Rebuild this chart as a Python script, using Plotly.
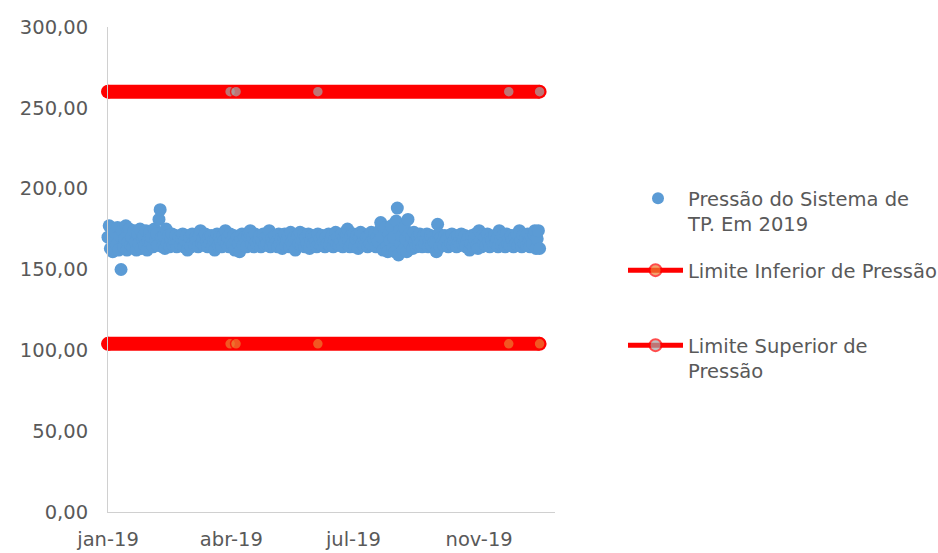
import pandas as pd
import plotly.graph_objects as go

# Pressão diária do sistema de TP em 2019
pressao = [
    # jan
    170, 177, 163, 175, 161, 168, 173, 165, 176, 162, 171, 150, 174, 164, 169, 177, 162, 167, 175, 165,
    170, 164, 174, 167, 162, 172, 166, 175, 163, 169, 171, 165, 174, 162, 168, 173, 166, 170, 164, 175,
    # fev
    168, 172, 165, 181, 187, 170, 164, 171, 163, 175,
    166, 171, 164, 169, 172, 165, 168, 171, 164, 167, 170, 165, 169, 172, 164, 168, 171, 162, 166, 170,
    164, 172, 167, 165, 170, 168, 164, 171, 174, 166,
    # mar - mai
    169, 165, 172, 167, 164, 170, 166, 171, 164, 168, 162, 169, 172, 165, 170, 167, 164, 171, 168, 174,
    166, 170, 164, 172, 167, 165, 171, 162, 168, 170, 166, 161, 169, 172, 165, 170, 167, 164, 171, 173,
    174, 166, 170, 164, 172, 167, 165, 169, 171, 164, 168, 172, 165, 170, 166, 171, 174, 164, 169, 167,
    # mai - jul
    165, 171, 167, 164, 172, 166, 169, 163, 170, 172, 165, 168, 171, 164, 173, 167, 165, 170, 162, 169,
    171, 166, 173, 165, 168, 172, 164, 170, 166, 172, 163, 168, 171, 165, 170, 167, 164, 172, 166, 169,
    165, 171, 167, 164, 170, 166, 172, 165, 169, 171, 164, 168, 173, 166, 170, 165, 168, 172, 164, 170,
    # jul - ago
    167, 171, 175, 168, 164, 171, 166, 172, 164, 169, 171, 163, 170, 173, 166, 172, 165, 168, 170, 164,
    171, 166, 173, 165, 169, 172, 164, 170, 167, 174,
    # ago - set
    179, 170, 162, 175, 176, 164, 161, 172, 168, 177, 163, 170, 161, 180, 188, 159, 174, 166, 171, 162,
    176, 169, 161, 181, 172, 165, 170, 163, 173, 167, 164,
    # set - out
    170, 165, 172, 167, 164, 171, 166, 169, 172, 164, 168, 171, 165, 170, 167,
    166, 161, 178, 172, 164, 170, 167, 165, 171, 168,
    # out - dez
    169, 164, 171, 166, 172, 165, 168, 170, 164, 171, 167, 165, 172, 166, 169, 171, 164, 168, 170, 162,
    166, 171, 164, 169, 172, 165, 163, 174, 168, 164, 171, 166, 170, 165, 172, 167, 164, 170, 168, 165,
    171, 166, 169, 164, 174, 168, 165, 171, 167, 164, 172, 166, 169, 165, 171, 168, 164, 170, 166, 172,
    165, 174, 168, 164, 171, 166, 169, 165, 172, 167, 164, 170, 166, 172, 174, 163, 169, 174, 163,
]
limite_inferior = 104
limite_superior = 260

# dias em que as séries de limite exibem marcador
pontos_marcados = [103, 108, 177, 338, 364]

tick_datas = ["2019-01-01", "2019-04-15", "2019-07-27", "2019-11-10"]
tick_rotulos = ["jan-19", "abr-19", "jul-19", "nov-19"]
y_ticks = [0, 50, 100, 150, 200, 250, 300]

datas = pd.date_range("2019-01-01", periods=len(pressao), freq="D")
n = len(pressao)
tam_marcador = [11 if i in pontos_marcados else 0 for i in range(n)]

FONTE = "DejaVu Sans"
COR_TEXTO = "#595959"
AZUL = "#5B9BD5"
VERMELHO = "#FF0000"
LARGURA_LIMITE = 14

fig = go.Figure()

fig.add_trace(go.Scatter(
    x=datas, y=pressao, mode="markers",
    name="Pressão do Sistema de<br>TP. Em 2019",
    marker=dict(color=AZUL, size=13, line=dict(width=0)),
    cliponaxis=False, legend="legend",
))

# pontas arredondadas das linhas de limite
for valor in (limite_inferior, limite_superior):
    fig.add_trace(go.Scatter(
        x=[datas[0], datas[-1]], y=[valor, valor], mode="markers",
        marker=dict(color=VERMELHO, size=LARGURA_LIMITE, line=dict(width=0)),
        cliponaxis=False, showlegend=False, hoverinfo="skip",
    ))

fig.add_trace(go.Scatter(
    x=datas, y=[limite_inferior] * n, mode="lines+markers",
    name="Limite Inferior de Pressão",
    line=dict(color=VERMELHO, width=LARGURA_LIMITE),
    marker=dict(color="#ED7D31", size=tam_marcador, line=dict(color=VERMELHO, width=1.5)),
    cliponaxis=False, legend="legend2",
))

fig.add_trace(go.Scatter(
    x=datas, y=[limite_superior] * n, mode="lines+markers",
    name="Limite Superior de<br>Pressão",
    line=dict(color=VERMELHO, width=LARGURA_LIMITE),
    marker=dict(color="#A5A5A5", size=tam_marcador, line=dict(color=VERMELHO, width=1.5)),
    cliponaxis=False, legend="legend3",
))

legenda_base = dict(
    xref="container", yref="container", xanchor="left", yanchor="top",
    font=dict(family=FONTE, size=19.5, color=COR_TEXTO),
    bgcolor="rgba(0,0,0,0)", borderwidth=0, valign="top",
    itemsizing="constant",
)

fig.update_layout(
    width=938, height=553,
    margin=dict(l=108, r=383, t=27, b=41, autoexpand=False),
    paper_bgcolor="white", plot_bgcolor="white",
    separators=",.",
    font=dict(family=FONTE, size=19.5, color=COR_TEXTO),
    showlegend=True,
    legend=dict(legenda_base, x=628 / 938, y=1 - 179 / 553, itemwidth=50),
    legend2=dict(legenda_base, x=623 / 938, y=1 - 251 / 553, itemwidth=55),
    legend3=dict(legenda_base, x=623 / 938, y=1 - 326 / 553, itemwidth=55),
    xaxis=dict(
        type="date",
        range=["2019-01-01", "2020-01-13"],
        tickvals=tick_datas, ticktext=tick_rotulos,
        showgrid=False, zeroline=False, automargin=False,
        showline=True, linecolor="#D0D0D0", linewidth=1,
        ticks="", ticklabelstandoff=10,
        tickfont=dict(family=FONTE, size=19.5, color=COR_TEXTO),
    ),
    yaxis=dict(
        range=[0, 300],
        tickvals=y_ticks, tickformat=".2f",
        showgrid=False, zeroline=False, automargin=False,
        showline=True, linecolor="#D0D0D0", linewidth=1,
        ticks="", ticklabelstandoff=15,
        tickfont=dict(family=FONTE, size=19.5, color=COR_TEXTO),
    ),
)

fig.write_html("out.html")
